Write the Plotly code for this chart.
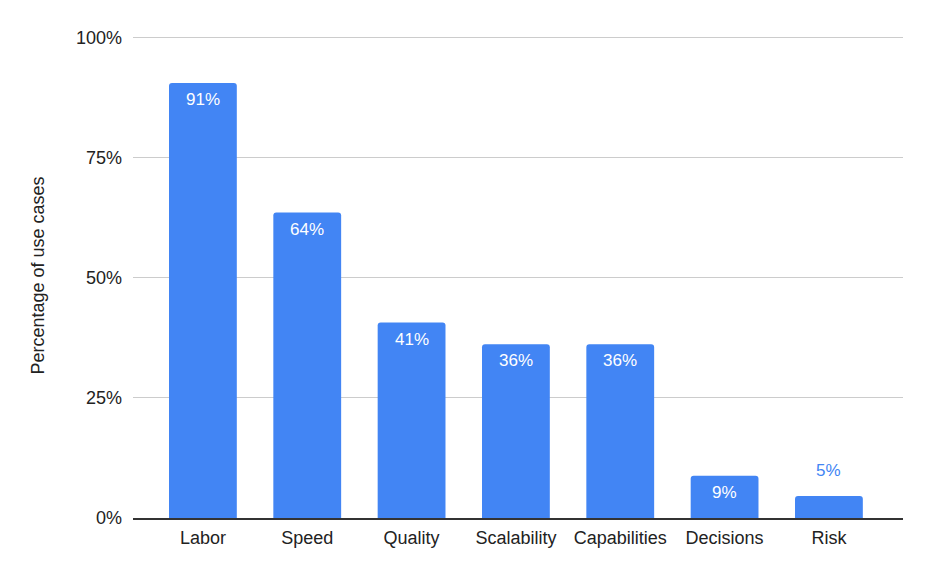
import plotly.graph_objects as go

categories = ["Labor", "Speed", "Quality", "Scalability", "Capabilities", "Decisions", "Risk"]
values = [90.6, 63.6, 40.7, 36.2, 36.2, 8.8, 4.6]
labels = ["91%", "64%", "41%", "36%", "36%", "9%", "5%"]
y_ticks = [0, 25, 50, 75, 100]
y_tick_labels = ["0%", "25%", "50%", "75%", "100%"]

BLUE = "#4285F4"
FONT = "Liberation Sans, Arial, sans-serif"

fig = go.Figure()
fig.add_trace(go.Bar(
    x=categories, y=values, marker=dict(color=BLUE, line=dict(width=0)),
    width=0.65, hoverinfo="skip",
))

annotations = []
for c, v, t in zip(categories, values, labels):
    inside = v >= 8
    annotations.append(dict(
        x=c, y=v, text=t, showarrow=False, xref="x", yref="y",
        yanchor="top" if inside else "bottom",
        yshift=-5 if inside else 14,
        font=dict(family=FONT, size=17, color="white" if inside else BLUE),
    ))

fig.update_layout(
    width=931, height=577,
    margin=dict(l=133, r=28, t=33, b=59),
    paper_bgcolor="white", plot_bgcolor="white",
    barcornerradius=3,
    showlegend=False,
    font=dict(family=FONT, size=18, color="#222222"),
    annotations=annotations,
    xaxis=dict(
        range=[-0.67, 6.71], showgrid=False, showline=True,
        linecolor="#333333", linewidth=2, ticks="", ticklabelstandoff=2,
        tickfont=dict(family=FONT, size=18, color="#222222"),
        fixedrange=True,
    ),
    yaxis=dict(
        range=[0, 101], tickvals=y_ticks, ticktext=y_tick_labels,
        showgrid=True, gridcolor="#cccccc", gridwidth=1,
        zeroline=False, showline=False, ticks="", ticklabelstandoff=10,
        tickfont=dict(family=FONT, size=18, color="#222222"),
        title=dict(text="Percentage of use cases", standoff=26,
                   font=dict(family=FONT, size=18, color="#222222")),
        fixedrange=True,
    ),
)

fig.write_html("out.html")
